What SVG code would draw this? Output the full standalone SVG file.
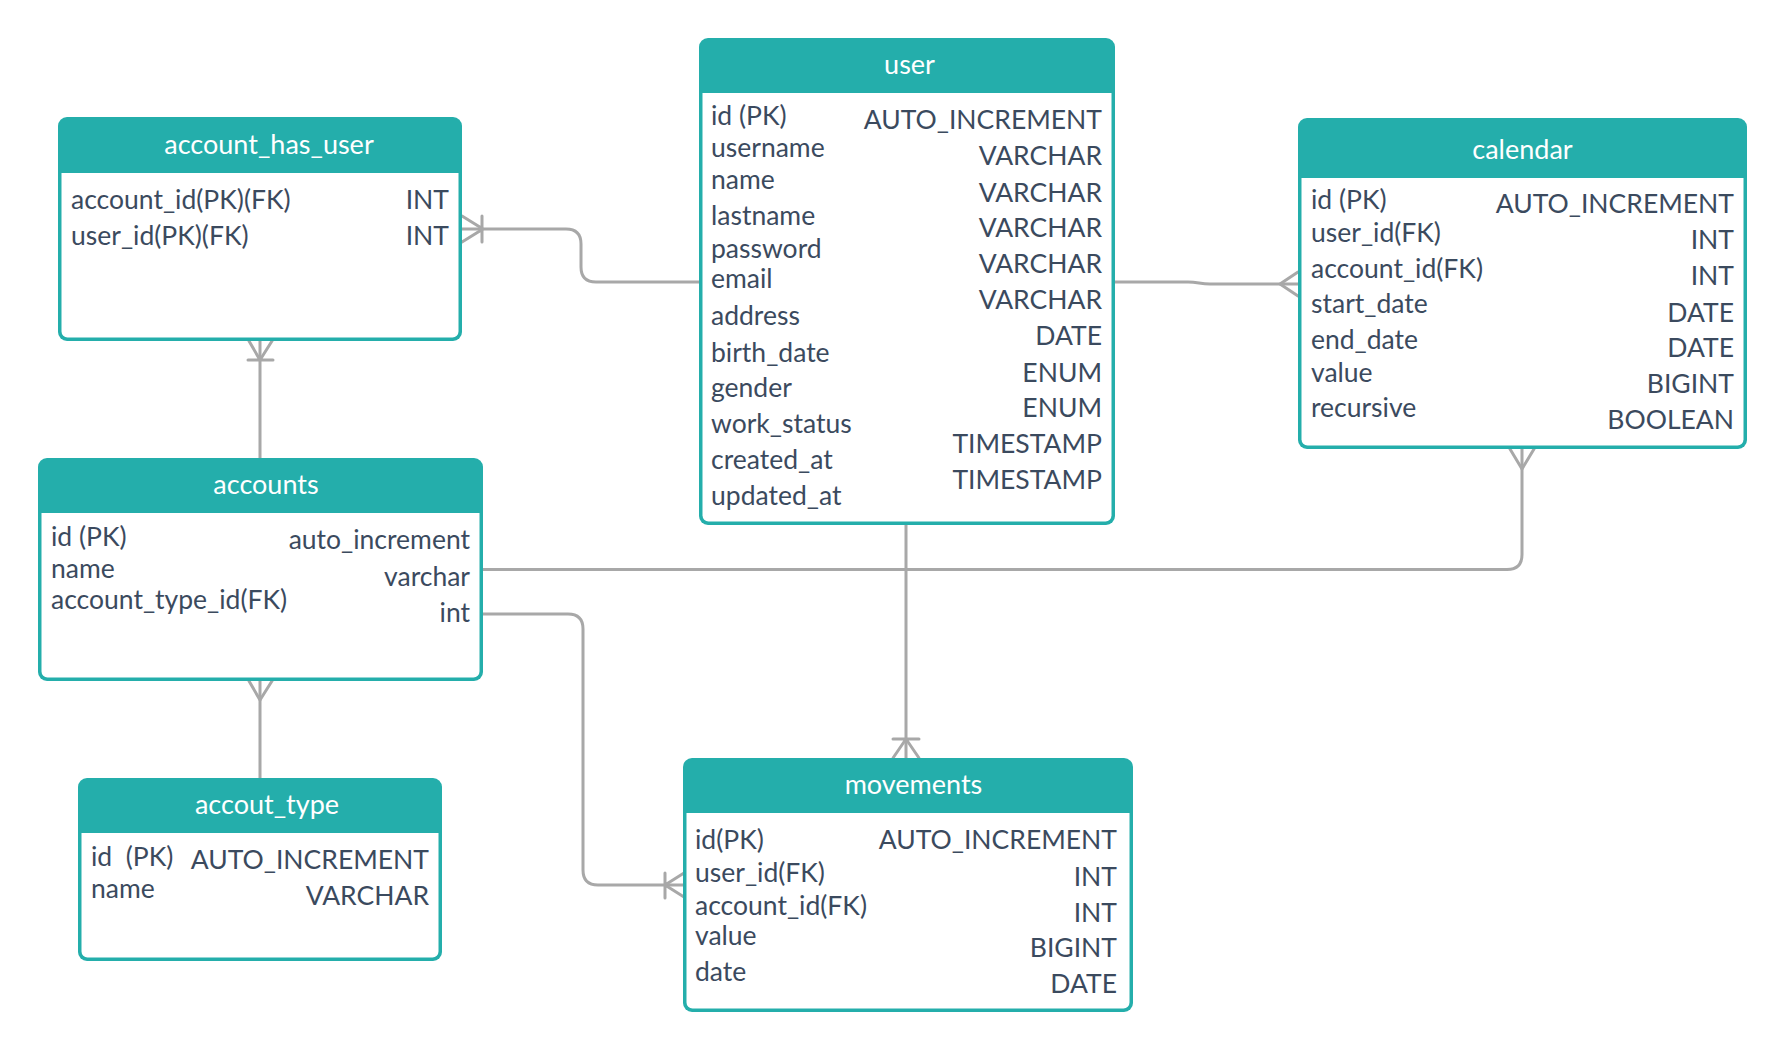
<svg xmlns="http://www.w3.org/2000/svg" width="1785" height="1052" viewBox="0 0 1785 1052">
  <style>
    .frame { fill: #24aeab; }
    .body { fill: #ffffff; }
    .title { font-family: Lato, "Liberation Sans", sans-serif; font-size: 27px; fill: #ffffff; text-anchor: middle; }
    .fld { font-family: Lato, "Liberation Sans", sans-serif; font-size: 26.5px; fill: #3b4a5e; white-space: pre; }
    .typ { font-family: Lato, "Liberation Sans", sans-serif; font-size: 26.5px; fill: #3b4a5e; text-anchor: end; }
    .ln { fill: none; stroke: #a8a8a8; stroke-width: 3; stroke-linecap: round; stroke-linejoin: round; }
  </style>
  <rect width="1785" height="1052" fill="#ffffff"/>

  <!-- relationships -->
  <g id="connectors">
    <!-- user -> account_has_user -->
    <path class="ln" d="M699 282 H596 Q581 282 581 267 V244 Q581 229 566 229 H462"/>
    <path class="ln" d="M483 229 L462 216 M483 229 L462 242 M482 216 V242"/>
    <!-- user -> calendar -->
    <path class="ln" d="M1115 282 H1188 C1198 282 1200 284 1210 284 H1298"/>
    <path class="ln" d="M1280 284 L1298 272 M1280 284 L1298 296"/>
    <!-- account_has_user -> accounts -->
    <path class="ln" d="M260 341 V458"/>
    <path class="ln" d="M260 360 L249 341 M260 360 L272 341 M248 360 H273"/>
    <!-- accounts -> accout_type -->
    <path class="ln" d="M260 681 V778"/>
    <path class="ln" d="M260 700 L249 681 M260 700 L272 681"/>
    <!-- user -> movements -->
    <path class="ln" d="M906 525 V758"/>
    <path class="ln" d="M893 739 H919 M906 739 L893 758 M906 739 L919 758"/>
    <!-- accounts -> calendar -->
    <path class="ln" d="M483 569.5 H1507 Q1522 569.5 1522 554.5 V449"/>
    <path class="ln" d="M1522 469 L1510 449 M1522 469 L1534 449"/>
    <!-- accounts -> movements -->
    <path class="ln" d="M483 614 H568 Q583 614 583 629 V870 Q583 885 598 885 H683"/>
    <path class="ln" d="M665 873 V898 M665 885 L684 873 M665 885 L684 897"/>
  </g>

  <!-- account_has_user -->
  <g id="account_has_user">
    <rect class="frame" x="58" y="117" width="404" height="224" rx="9"/>
    <path class="body" d="M61.5 173 H458.5 V331.5 A6 6 0 0 1 452.5 337.5 H67.5 A6 6 0 0 1 61.5 331.5 Z"/>
    <text class="title" x="269" y="154">account_has_user</text>
    <text class="fld" x="71" y="209">account_id(PK)(FK)</text>
    <text class="fld" x="71" y="245">user_id(PK)(FK)</text>
    <text class="typ" x="449" y="209">INT</text>
    <text class="typ" x="449" y="245">INT</text>
  </g>

  <!-- user -->
  <g id="user">
    <rect class="frame" x="699" y="38" width="416" height="487" rx="9"/>
    <path class="body" d="M702.5 93 H1111.5 V515.5 A6 6 0 0 1 1105.5 521.5 H708.5 A6 6 0 0 1 702.5 515.5 Z"/>
    <text class="title" x="909.5" y="74">user</text>
    <text class="fld" x="711" y="125">id (PK)</text>
    <text class="fld" x="711" y="157">username</text>
    <text class="fld" x="711" y="189">name</text>
    <text class="fld" x="711" y="225">lastname</text>
    <text class="fld" x="711" y="258">password</text>
    <text class="fld" x="711" y="288">email</text>
    <text class="fld" x="711" y="325">address</text>
    <text class="fld" x="711" y="362">birth_date</text>
    <text class="fld" x="711" y="397">gender</text>
    <text class="fld" x="711" y="433">work_status</text>
    <text class="fld" x="711" y="469">created_at</text>
    <text class="fld" x="711" y="505">updated_at</text>
    <text class="typ" x="1102" y="129">AUTO_INCREMENT</text>
    <text class="typ" x="1102" y="165">VARCHAR</text>
    <text class="typ" x="1102" y="202">VARCHAR</text>
    <text class="typ" x="1102" y="237">VARCHAR</text>
    <text class="typ" x="1102" y="273">VARCHAR</text>
    <text class="typ" x="1102" y="309">VARCHAR</text>
    <text class="typ" x="1102" y="345">DATE</text>
    <text class="typ" x="1102" y="382">ENUM</text>
    <text class="typ" x="1102" y="417">ENUM</text>
    <text class="typ" x="1102" y="453">TIMESTAMP</text>
    <text class="typ" x="1102" y="489">TIMESTAMP</text>
  </g>

  <!-- calendar -->
  <g id="calendar">
    <rect class="frame" x="1298" y="118" width="449" height="331" rx="9"/>
    <path class="body" d="M1301.5 178 H1743.5 V439.5 A6 6 0 0 1 1737.5 445.5 H1307.5 A6 6 0 0 1 1301.5 439.5 Z"/>
    <text class="title" x="1522.5" y="159">calendar</text>
    <text class="fld" x="1311" y="209">id (PK)</text>
    <text class="fld" x="1311" y="242">user_id(FK)</text>
    <text class="fld" x="1311" y="278">account_id(FK)</text>
    <text class="fld" x="1311" y="313">start_date</text>
    <text class="fld" x="1311" y="349">end_date</text>
    <text class="fld" x="1311" y="382">value</text>
    <text class="fld" x="1311" y="417">recursive</text>
    <text class="typ" x="1734" y="213">AUTO_INCREMENT</text>
    <text class="typ" x="1734" y="249">INT</text>
    <text class="typ" x="1734" y="285">INT</text>
    <text class="typ" x="1734" y="322">DATE</text>
    <text class="typ" x="1734" y="357">DATE</text>
    <text class="typ" x="1734" y="393">BIGINT</text>
    <text class="typ" x="1734" y="429">BOOLEAN</text>
  </g>

  <!-- accounts -->
  <g id="accounts">
    <rect class="frame" x="38" y="458" width="445" height="223" rx="9"/>
    <path class="body" d="M41.5 513 H479.5 V671.5 A6 6 0 0 1 473.5 677.5 H47.5 A6 6 0 0 1 41.5 671.5 Z"/>
    <text class="title" x="266" y="494">accounts</text>
    <text class="fld" x="51" y="546">id (PK)</text>
    <text class="fld" x="51" y="578">name</text>
    <text class="fld" x="51" y="609">account_type_id(FK)</text>
    <text class="typ" x="470" y="549">auto_increment</text>
    <text class="typ" x="470" y="586">varchar</text>
    <text class="typ" x="470" y="622">int</text>
  </g>

  <!-- accout_type -->
  <g id="accout_type">
    <rect class="frame" x="78" y="778" width="364" height="183" rx="9"/>
    <path class="body" d="M81.5 833 H438.5 V951.5 A6 6 0 0 1 432.5 957.5 H87.5 A6 6 0 0 1 81.5 951.5 Z"/>
    <text class="title" x="267" y="814">accout_type</text>
    <text class="fld" x="91" y="866" xml:space="preserve">id  (PK)</text>
    <text class="fld" x="91" y="898">name</text>
    <text class="typ" x="429" y="869">AUTO_INCREMENT</text>
    <text class="typ" x="429" y="905">VARCHAR</text>
  </g>

  <!-- movements -->
  <g id="movements">
    <rect class="frame" x="683" y="758" width="450" height="254" rx="9"/>
    <path class="body" d="M686.5 813 H1129.5 V1002.5 A6 6 0 0 1 1123.5 1008.5 H692.5 A6 6 0 0 1 686.5 1002.5 Z"/>
    <text class="title" x="913.5" y="794">movements</text>
    <text class="fld" x="695" y="849">id(PK)</text>
    <text class="fld" x="695" y="882">user_id(FK)</text>
    <text class="fld" x="695" y="915">account_id(FK)</text>
    <text class="fld" x="695" y="945">value</text>
    <text class="fld" x="695" y="981">date</text>
    <text class="typ" x="1117" y="849">AUTO_INCREMENT</text>
    <text class="typ" x="1117" y="886">INT</text>
    <text class="typ" x="1117" y="922">INT</text>
    <text class="typ" x="1117" y="957">BIGINT</text>
    <text class="typ" x="1117" y="993">DATE</text>
  </g>
</svg>
